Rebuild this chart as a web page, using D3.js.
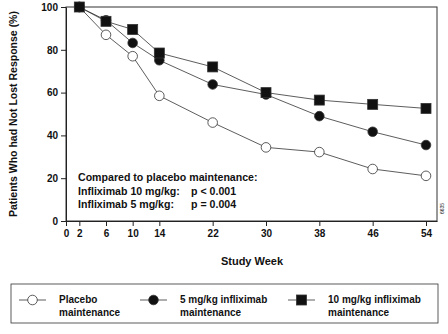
<!DOCTYPE html>
<head>
  <meta charset="utf-8">
  <script src="https://d3js.org/d3.v7.min.js"></script>
  <style>
    body { margin: 0; background: #fff; font-family: "Liberation Sans", Arial, sans-serif; }
    text { fill: #111; font-weight: bold; }
    .axis path, .axis line { stroke: #222; stroke-width: 1px; }
    .axis text { font-size: 10px; }
    .series { fill: none; stroke: #333; stroke-width: 0.8px; }
  </style>
</head>
<body>
  <script>
    var weeks = [2, 6, 10, 14, 22, 30, 38, 46, 54];
    var placebo = [100, 87, 77, 58.5, 46, 34.4, 32.2, 24.3, 21.1];
    var mg5 = [100, 93.8, 83.2, 75.1, 63.8, 59.1, 49, 41.7, 35.5];
    var mg10 = [100, 93.3, 89.5, 78.5, 72, 60, 56.5, 54.5, 52.6];
    var xTicks = [0, 2, 6, 10, 14, 22, 30, 38, 46, 54];
    var yTicks = [0, 20, 40, 60, 80, 100];
    var legendLabels = [["Placebo", "maintenance"], ["5 mg/kg infliximab", "maintenance"], ["10 mg/kg infliximab", "maintenance"]];
    var noteLines = ["Compared to placebo maintenance:", "Infliximab 10 mg/kg:", "Infliximab 5 mg/kg:"];
    var pValues = ["", "p < 0.001", "p = 0.004"];

    var width = 448, height = 334;
    var plot = {left: 66, top: 7, right: 437, bottom: 221};

    var svg = d3.select("body").append("svg")
        .attr("width", width)
        .attr("height", height);

    var x = d3.scaleLinear().domain([0, 55.65]).range([plot.left, plot.right]);
    var y = d3.scaleLinear().domain([0, 100]).range([plot.bottom, plot.top]);

    // frame
    svg.append("rect")
        .attr("x", plot.left).attr("y", plot.top)
        .attr("width", plot.right - plot.left).attr("height", plot.bottom - plot.top)
        .attr("fill", "none").attr("stroke", "#333").attr("stroke-width", 1);

    svg.append("g")
        .attr("class", "axis")
        .attr("transform", "translate(0," + plot.bottom + ")")
        .call(d3.axisBottom(x).tickValues(xTicks).tickSize(5).tickSizeOuter(0).tickPadding(4));

    svg.append("g")
        .attr("class", "axis")
        .attr("transform", "translate(" + plot.left + ",0)")
        .call(d3.axisLeft(y).tickValues(yTicks).tickSize(5).tickSizeOuter(0).tickPadding(3));

    svg.append("text")
        .attr("transform", "translate(17," + (plot.top + plot.bottom) / 2 + ") rotate(-90)")
        .attr("text-anchor", "middle")
        .style("font-size", "10.5px")
        .text("Patients Who had Not Lost Response (%)");

    svg.append("text")
        .attr("x", 252).attr("y", 265)
        .attr("text-anchor", "middle")
        .style("font-size", "11px")
        .text("Study Week");

    svg.append("text")
        .attr("transform", "translate(444,214) rotate(-90)")
        .style("font-size", "5px")
        .style("font-weight", "normal")
        .text("6635");

    // p-value note
    var note = svg.append("g").style("font-size", "10.6px");
    noteLines.forEach(function(t, i) {
      note.append("text").attr("x", 78).attr("y", 181 + i * 13.5).text(t);
      if (pValues[i]) note.append("text").attr("x", 191).attr("y", 181 + i * 13.5).text(pValues[i]);
    });

    var line = d3.line()
        .x(function(d) { return x(d[0]); })
        .y(function(d) { return y(d[1]); });

    var series = [
      {values: placebo, shape: "circle", fill: "#fff"},
      {values: mg5, shape: "circle", fill: "#111"},
      {values: mg10, shape: "square", fill: "#111"}
    ];

    function marker(g, shape, fill, cx, cy) {
      if (shape == "circle") {
        g.append("circle").attr("cx", cx).attr("cy", cy).attr("r", 4.8)
            .attr("fill", fill).attr("stroke", "#333").attr("stroke-width", 0.8);
      } else {
        g.append("rect").attr("x", cx - 5).attr("y", cy - 5).attr("width", 10).attr("height", 10)
            .attr("fill", fill).attr("stroke", "#333").attr("stroke-width", 0.8);
      }
    }

    series.forEach(function(s) {
      var pts = weeks.map(function(w, i) { return [w, s.values[i]]; });
      svg.append("path").datum(pts).attr("class", "series").attr("d", line);
    });
    series.forEach(function(s) {
      var g = svg.append("g");
      weeks.forEach(function(w, i) { marker(g, s.shape, s.fill, x(w), y(s.values[i])); });
    });

    // legend
    svg.append("rect")
        .attr("x", 11).attr("y", 284).attr("width", 427).attr("height", 39)
        .attr("fill", "none").attr("stroke", "#333").attr("stroke-width", 0.8);

    var legendX = [19, 140, 288];
    series.forEach(function(s, i) {
      var g = svg.append("g");
      g.append("line").attr("x1", legendX[i]).attr("x2", legendX[i] + 27)
          .attr("y1", 300).attr("y2", 300).attr("stroke", "#333").attr("stroke-width", 0.8);
      marker(g, s.shape, s.fill, legendX[i] + 13.5, 300);
      legendLabels[i].forEach(function(t, j) {
        g.append("text").attr("x", legendX[i] + 40).attr("y", 303 + j * 12.5)
            .style("font-size", "10px").text(t);
      });
    });
  </script>
</body>
